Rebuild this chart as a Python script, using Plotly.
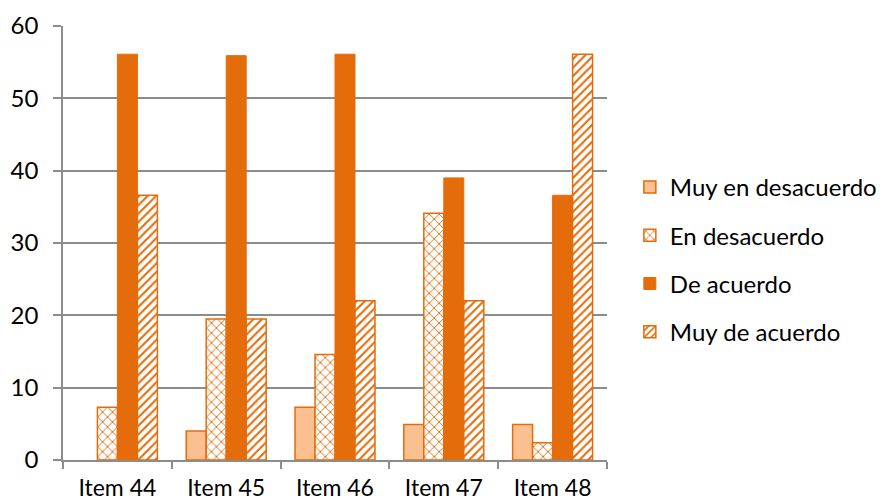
import plotly.graph_objects as go

# Survey responses per item (percent of respondents); None = no responses
items = ["Item 44", "Item 45", "Item 46", "Item 47", "Item 48"]
muy_en_desacuerdo = [None, 4.0, 7.3, 4.9, 4.9]
en_desacuerdo = [7.3, 19.5, 14.6, 34.1, 2.4]
de_acuerdo = [56.1, 55.9, 56.1, 39.0, 36.6]
muy_de_acuerdo = [36.6, 19.5, 22.0, 22.0, 56.1]

ORANGE = "#E46C0A"
LIGHT = "#FAC090"
GRID = "#8C8C8C"
FONT = "Lato"
FSIZE = 24

fig = go.Figure()

fig.add_trace(go.Bar(
    name="Muy en desacuerdo", x=items, y=muy_en_desacuerdo,
    marker=dict(color=LIGHT, line=dict(color=ORANGE, width=1.5)),
    legendgroup="a",
))
fig.add_trace(go.Bar(
    name="En desacuerdo", x=items, y=en_desacuerdo,
    marker=dict(
        color="white",
        line=dict(color=ORANGE, width=1.5),
        pattern=dict(shape="x", size=7, solidity=0.25,
                     fgcolor=ORANGE, bgcolor="white", fillmode="replace"),
    ),
    legendgroup="b",
))
fig.add_trace(go.Bar(
    name="De acuerdo", x=items, y=de_acuerdo,
    marker=dict(color=ORANGE, line=dict(color=ORANGE, width=1)),
    legendgroup="c",
))
fig.add_trace(go.Bar(
    name="Muy de acuerdo", x=items, y=muy_de_acuerdo,
    marker=dict(
        color="white",
        line=dict(color=ORANGE, width=1.5),
        pattern=dict(shape="/", size=6, solidity=0.35,
                     fgcolor=ORANGE, bgcolor="white", fillmode="replace"),
    ),
    legendgroup="d",
))

fig.update_layout(
    width=886, height=504,
    margin=dict(l=63, r=279, t=26, b=44, autoexpand=False),
    paper_bgcolor="white", plot_bgcolor="white",
    barmode="group", bargap=0.265, bargroupgap=0,
    font=dict(family=FONT, size=FSIZE, color="#000000"),
    showlegend=True,
    legend=dict(
        x=1.042, xanchor="left", y=0.462, yanchor="middle",
        traceorder="grouped", tracegroupgap=14,
        font=dict(family=FONT, size=FSIZE, color="#000000"),
        itemwidth=30, bgcolor="rgba(0,0,0,0)",
    ),
    xaxis=dict(
        showline=True, linecolor=GRID, linewidth=1.5,
        ticks="outside", tickson="boundaries", ticklen=7,
        tickcolor=GRID, tickwidth=1.5,
        showgrid=False, ticklabelstandoff=7, automargin=False,
        tickfont=dict(family=FONT, size=23, color="#000000"),
    ),
    yaxis=dict(
        range=[0, 60], dtick=10,
        showline=True, linecolor=GRID, linewidth=1.5,
        ticks="outside", ticklen=8, tickcolor=GRID, tickwidth=1.5,
        showgrid=True, gridcolor=GRID, gridwidth=1.5,
        zeroline=False, ticklabelstandoff=10, automargin=False,
    ),
)

fig.write_html("out.html")
